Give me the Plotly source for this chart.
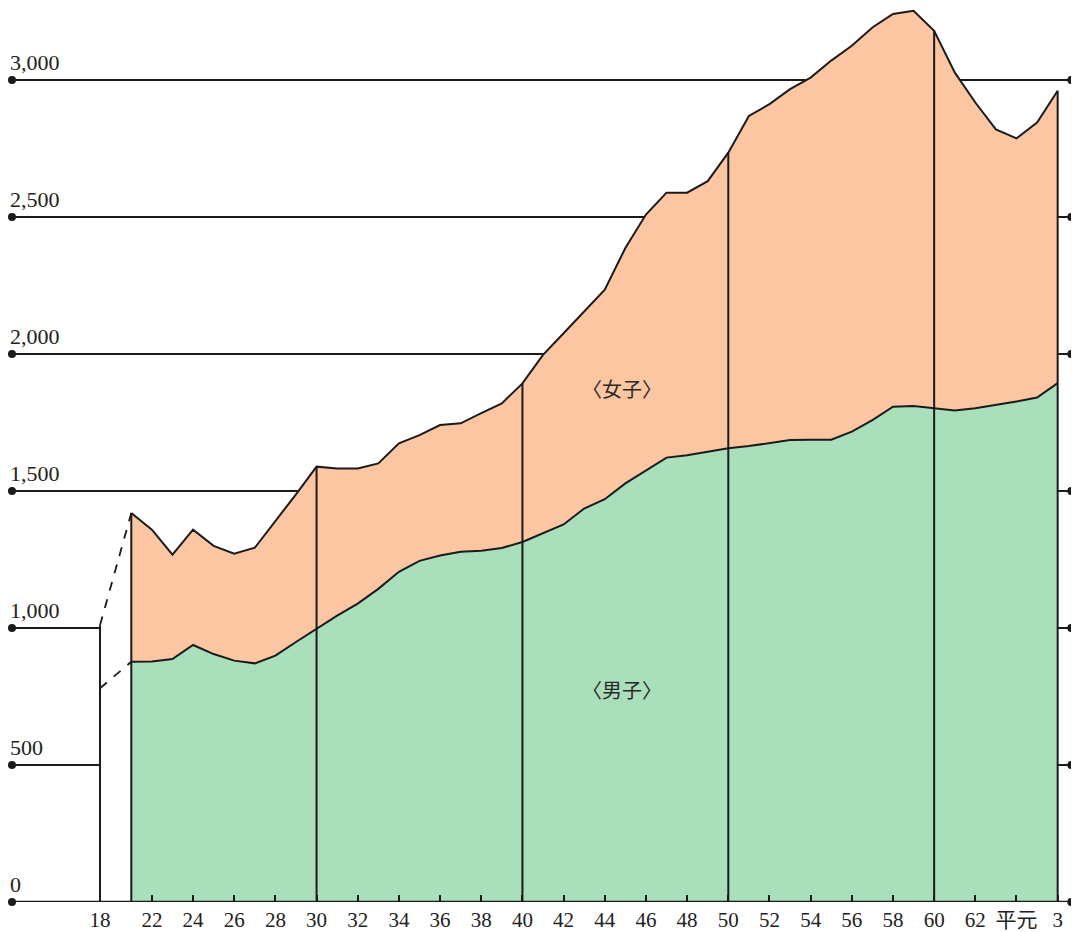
import plotly.graph_objects as go

# ---------------- data ----------------
years = [18] + list(range(21, 67))
male = [780,
        877, 878, 887, 938, 905, 881, 871, 899, 949, 997,
        1045, 1089, 1143, 1205, 1245, 1265, 1278, 1282, 1292, 1314,
        1345, 1378, 1436, 1470, 1528, 1576, 1622, 1631, 1644, 1656,
        1664, 1674, 1686, 1687, 1687, 1717, 1759, 1808, 1810, 1802,
        1794, 1802, 1814, 1827, 1841, 1894]
female = [230,
          543, 481, 381, 421, 395, 390, 422, 491, 539, 592,
          537, 493, 458, 469, 459, 476, 469, 502, 528, 579,
          652, 698, 720, 765, 859, 933, 967, 958, 987, 1079,
          1205, 1238, 1281, 1322, 1384, 1408, 1433, 1433, 1443, 1378,
          1234, 1116, 1006, 960, 1004, 1067]
tick_years = [18, 22, 24, 26, 28, 30, 32, 34, 36, 38, 40, 42, 44, 46, 48,
              50, 52, 54, 56, 58, 60, 62, 64, 66]
tick_labels = ["18", "22", "24", "26", "28", "30", "32", "34", "36", "38", "40",
               "42", "44", "46", "48", "50", "52", "54", "56", "58", "60",
               "62", "平元", "3"]
level_values = [0, 500, 1000, 1500, 2000, 2500, 3000]
level_labels = ["0", "500", "1,000", "1,500", "2,000", "2,500", "3,000"]
decade_years = [30, 40, 50, 60]

# ---------------- styling / layout constants ----------------
LINE = "#1b1b1b"
GREEN = "#aadfbc"
ORANGE = "#fbc6a1"
FONT = "Liberation Serif, Noto Sans CJK JP, serif"
XMIN, XMAX = 15.205, 66.745
YMAX = 3263
GAP_START = 21          # first year after the wartime gap
GAP_WIDTH = 1.52        # compressed width of the gap on the axis


def xpos(y):
    return y if y >= GAP_START else GAP_START - GAP_WIDTH * (GAP_START - y) / 3.0


xs = [xpos(y) for y in years]
total = [m + f for m, f in zip(male, female)]
main = [i for i, y in enumerate(years) if y >= GAP_START]
pre = [i for i, y in enumerate(years) if y < GAP_START]

fig = go.Figure()

# stacked areas
fig.add_trace(go.Scatter(
    x=[xs[i] for i in main], y=[male[i] for i in main],
    stackgroup="s", mode="lines", fillcolor=GREEN,
    line=dict(color=LINE, width=2), hoverinfo="skip", showlegend=False))
fig.add_trace(go.Scatter(
    x=[xs[i] for i in main], y=[female[i] for i in main],
    stackgroup="s", mode="lines", fillcolor=ORANGE,
    line=dict(color=LINE, width=2), hoverinfo="skip", showlegend=False))

# vertical lines: pre-gap bar, area edges and decade years
first, last = main[0], main[-1]
vert_idx = pre + [first] + [years.index(d) for d in decade_years] + [last]
for i in vert_idx:
    fig.add_trace(go.Scatter(
        x=[xs[i], xs[i]], y=[0, total[i]], mode="lines",
        line=dict(color=LINE, width=2), hoverinfo="skip", showlegend=False))

# dashed connectors across the gap
for i in pre:
    for series in (total, male):
        fig.add_trace(go.Scatter(
            x=[xs[i], xs[first]], y=[series[i], series[first]], mode="lines",
            line=dict(color=LINE, width=1.8, dash="dash"),
            hoverinfo="skip", showlegend=False))

# reference level lines (drawn beneath the areas)
shapes = []
x_pre = xs[pre[0]]
x_end = xs[last]
for v in level_values[1:]:
    if v <= total[pre[0]]:
        shapes.append(dict(type="line", xref="x", yref="y", x0=XMIN, x1=x_pre,
                           y0=v, y1=v, line=dict(color=LINE, width=2), layer="below"))
        shapes.append(dict(type="line", xref="x", yref="y", x0=x_end, x1=XMAX,
                           y0=v, y1=v, line=dict(color=LINE, width=2), layer="below"))
    else:
        shapes.append(dict(type="line", xref="x", yref="y", x0=XMIN, x1=XMAX,
                           y0=v, y1=v, line=dict(color=LINE, width=2), layer="below"))
# baseline
shapes.append(dict(type="line", xref="x", yref="y", x0=XMIN, x1=XMAX,
                   y0=0, y1=0, line=dict(color=LINE, width=2.4), layer="above"))

# end dots
dot_x = [XMIN] * len(level_values) + [XMAX - 0.08] * len(level_values)
dot_y = level_values + level_values
fig.add_trace(go.Scatter(
    x=dot_x, y=dot_y, mode="markers", cliponaxis=False,
    marker=dict(color=LINE, size=8), hoverinfo="skip", showlegend=False))

# level labels
annotations = []
for v, lab in zip(level_values, level_labels):
    annotations.append(dict(
        x=0, xref="paper", y=v, yref="y", text=lab, showarrow=False,
        xanchor="left", yanchor="bottom", xshift=-4, yshift=3,
        font=dict(family=FONT, size=22, color="#222")))

# series labels
label_x = 44.85
annotations.append(dict(x=label_x, y=1875, xref="x", yref="y", text="〈女子〉",
                        showarrow=False, font=dict(family="Noto Sans CJK JP", size=20, color="#2a2a2a")))
annotations.append(dict(x=label_x, y=777, xref="x", yref="y", text="〈男子〉",
                        showarrow=False, font=dict(family="Noto Sans CJK JP", size=20, color="#2a2a2a")))

# the page body adds an 8px offset, so the figure is 8px smaller
fig.update_layout(
    template="none",
    width=1071, height=924,
    margin=dict(l=4, r=6, t=0, b=30, pad=0, autoexpand=False),
    paper_bgcolor="white", plot_bgcolor="white",
    shapes=shapes, annotations=annotations,
    xaxis=dict(range=[XMIN, XMAX], showgrid=False, zeroline=False, automargin=False,
               tickmode="array", tickvals=[xpos(y) for y in tick_years],
               ticktext=tick_labels, ticks="inside", ticklen=7, tickwidth=2,
               tickcolor=LINE, showline=False, ticklabelstandoff=3,
               tickfont=dict(family=FONT, size=21, color="#222")),
    yaxis=dict(range=[0, YMAX], showgrid=False, zeroline=False, automargin=False,
               showticklabels=False, showline=False, ticks=""),
)

fig.write_html("out.html")
